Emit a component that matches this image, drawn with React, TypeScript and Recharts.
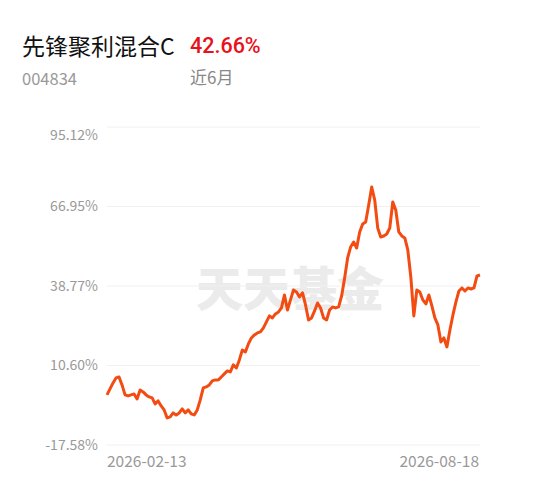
import React from "react";
import { CartesianGrid, Line, LineChart, XAxis, YAxis } from "recharts";

// cumulative return (%) per trading day
const returns = [
  0.17, 2.29, 4.42, 6.19, 6.54, 3.71, 0.17, -0.19, 0.17, 0.52,
  -1.25, 1.94, 1.23, 0.17, -0.54, -0.9, -3.02, -1.96, -3.73, -5.15,
  -7.98, -7.63, -6.21, -6.92, -6.21, -4.79, -6.21, -5.15, -6.56, -6.92,
  -5.15, -1.6, 2.65, 3.0, 3.71, 5.13, 5.48, 5.48, 6.54, 7.61,
  8.67, 8.32, 10.8, 9.73, 12.57, 16.11, 15.4, 18.24, 20.36, 21.43,
  22.13, 22.49, 23.91, 26.03, 28.16, 27.45, 28.87, 29.57, 30.99, 35.6,
  30.28, 33.83, 37.37, 36.66, 34.89, 36.31, 32.05, 26.74, 27.45, 29.93,
  32.76, 30.99, 27.45, 26.74, 30.28, 31.35, 30.99, 31.35, 35.24, 41.62,
  48.71, 52.6, 54.38, 52.25, 57.92, 60.75, 61.46, 67.48, 73.86, 69.26,
  59.34, 56.15, 56.5, 57.21, 59.34, 68.55, 65.71, 57.92, 56.5, 55.79,
  51.54, 41.97, 28.16, 37.37, 36.66, 33.83, 32.41, 35.6, 31.7, 27.45,
  24.97, 18.94, 20.36, 17.17, 23.2, 28.51, 33.12, 37.01, 38.08, 37.01,
  38.08, 37.72, 38.08, 42.33, 42.66,
];

const yTicks = [-17.58, 10.6, 38.77, 66.95, 95.12];
const xLabels = ["2026-02-13", "2026-08-18"];

const fundName = "先锋聚利混合C";
const fundCode = "004834";
const periodReturn = "42.66%";
const periodLabel = "近6月";
const watermark = "天天基金";

const data = returns.map((v, i) => ({ i, v }));
const lastIndex = returns.length - 1;

const font = '"Noto Sans CJK SC", "Noto Sans", sans-serif';

function YTick(props: any) {
  const { x, y, payload, index } = props;
  // top label sits a little below its grid line
  const shift = index === yTicks.length - 1 ? 8 : 0;
  return (
    <text x={x} y={y + shift} dy={5} textAnchor="end" fill="#999" fontSize={14} fontFamily={font}>
      {payload.value.toFixed(2)}%
    </text>
  );
}

function XTick(props: any) {
  const { x, y, payload } = props;
  const first = payload.value === 0;
  return (
    <text
      x={first ? x : x - 1}
      y={y}
      dy={14}
      textAnchor={first ? "start" : "end"}
      fill="#999"
      fontSize={15.5}
      fontFamily={font}
    >
      {first ? xLabels[0] : xLabels[1]}
    </text>
  );
}

export default function App() {
  return (
    <div style={{ position: "absolute", left: 0, top: 0, width: 538, height: 500, background: "#fff", fontFamily: font }}>
      <div style={{ position: "absolute", left: 22, top: 33, fontSize: 23, lineHeight: "25px", color: "#111" }}>
        {fundName}
      </div>
      <div
        style={{
          position: "absolute",
          left: 190,
          top: 34,
          fontSize: 21.5,
          lineHeight: "24px",
          color: "#e8111a",
          fontWeight: 500,
          fontFamily: "Roboto, sans-serif",
        }}
      >
        {periodReturn}
      </div>
      <div style={{ position: "absolute", left: 22, top: 68, fontSize: 16.5, lineHeight: "20px", color: "#999" }}>
        {fundCode}
      </div>
      <div style={{ position: "absolute", left: 190, top: 67, fontSize: 17, lineHeight: "20px", color: "#888" }}>
        {periodLabel}
      </div>
      <div
        style={{
          position: "absolute",
          left: 196,
          top: 260,
          fontSize: 47,
          lineHeight: "52px",
          fontWeight: 900,
          color: "#ebebeb",
          whiteSpace: "nowrap",
        }}
      >
        {watermark}
      </div>
      <div style={{ position: "absolute", left: 0, top: 0 }}>
        <LineChart width={538} height={500} data={data} margin={{ top: 127, right: 58, left: 0, bottom: 0 }}>
          <CartesianGrid vertical={false} stroke="#f0f0f0" />
          <XAxis
            dataKey="i"
            type="number"
            domain={[0, lastIndex]}
            ticks={[0, lastIndex]}
            axisLine={false}
            tickLine={false}
            height={55}
            tick={<XTick />}
          />
          <YAxis
            domain={[yTicks[0], yTicks[yTicks.length - 1]]}
            ticks={yTicks}
            axisLine={false}
            tickLine={false}
            tickSize={0}
            tickMargin={9}
            width={107}
            tick={<YTick />}
          />
          <Line
            type="linear"
            dataKey="v"
            stroke="#f24c12"
            strokeWidth={3}
            dot={false}
            strokeLinejoin="round"
            isAnimationActive={false}
          />
        </LineChart>
      </div>
    </div>
  );
}
